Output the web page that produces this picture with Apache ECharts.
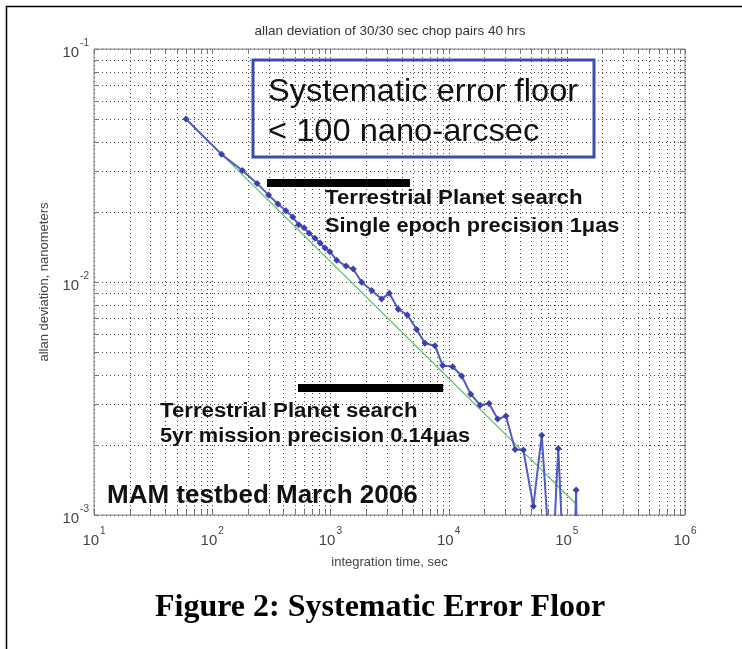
<!DOCTYPE html>
<html>
<head>
<meta charset="utf-8">
<script src="https://cdn.jsdelivr.net/npm/echarts@6/dist/echarts.min.js"></script>
<style>
html,body{margin:0;padding:0;background:#fff;}
#c{width:742px;height:649px;}
</style>
</head>
<body>
<div id="c"></div>
<script>
// integration time (sec)
var times = [60,120,180,240,300,360,420,480,540,600,660,740,820,900,990,1130,1355,1560,1840,2240,2710,3150,3750,4480,5370,6310,7670,8910,10830,12900,15400,18450,22000,26000,30600,36500,42900,52100,61400,74300,84700,106000,120000,124000];
// allan deviation (nanometers)
var adev = [0.0501,0.0353,0.0301,0.0265,0.0236,0.0216,0.0202,0.0190,0.0176,0.0171,0.0162,0.0154,0.0147,0.0140,0.0135,0.0124,0.0117,0.01137,0.00997,0.00919,0.00846,0.00894,0.00764,0.00722,0.00626,0.00546,0.00533,0.00438,0.00433,0.00395,0.00330,0.00296,0.00301,0.00258,0.00266,0.00191,0.00190,0.00109,0.00220,0.0005,0.00193,0.00016,0.00128,0.0001];
// t^-1/2 reference line
var fitTimes = [60, 121000];
var fitValues = [0.0501, 0.00111];
// precision bars
var bar1Times = [291, 4710];
var bar1Value = 0.0266;
var bar2Times = [532, 8980];
var bar2Value = 0.00351;
// axis ranges / ticks
var xDecades = [10, 100, 1000, 10000, 100000, 1000000];
var yDecades = [0.001, 0.01, 0.1];

function pairs(a, b){ return a.map(function(v,i){ return [v, b[i]]; }); }

// grid lines (major + minor, log spaced)
var gridItems = [];
for (var i = 0; i < xDecades.length - 1; i++) {
  for (var m = 1; m <= 9; m++) gridItems.push([xDecades[i]*m, 0.01, 0]);
}
gridItems.push([xDecades[xDecades.length-1], 0.01, 0]);
for (var j = 0; j < yDecades.length - 1; j++) {
  for (var n = 1; n <= 9; n++) gridItems.push([100, yDecades[j]*n, 1]);
}
gridItems.push([100, yDecades[yDecades.length-1], 1]);

var chart = echarts.init(document.getElementById('c'));

function supLabel(v){
  var e = Math.round(Math.log10(v));
  return '{b|10}{s|' + e + '}';
}
var labelRich = {
  b: {fontSize: 15, fontFamily: 'Liberation Sans', color: '#444', lineHeight: 22, verticalAlign: 'bottom'},
  s: {fontSize: 10, fontFamily: 'Liberation Sans', color: '#444', lineHeight: 22, verticalAlign: 'top', padding: [0,0,0,1]}
};
var boldTxt = {fontSize: 20, fontWeight: 'bold', fill: '#111', fontFamily: 'Liberation Sans'};

chart.setOption({
  animation: false,
  backgroundColor: '#fff',
  grid: {left: 94, top: 49, right: 57, bottom: 134, show: true, borderColor: '#858585', borderWidth: 1, backgroundColor: 'transparent'},
  xAxis: {
    type: 'log', logBase: 10, min: 10, max: 1000000,
    axisLine: {show: false}, axisTick: {show: false}, splitLine: {show: false},
    axisLabel: {formatter: supLabel, rich: labelRich, margin: 11, showMinLabel: true, showMaxLabel: true},
    name: 'integration time, sec', nameLocation: 'middle', nameGap: 41,
    nameTextStyle: {fontSize: 13, color: '#444', fontFamily: 'Liberation Sans'}
  },
  yAxis: {
    type: 'log', logBase: 10, min: 0.001, max: 0.1,
    axisLine: {show: false}, axisTick: {show: false}, splitLine: {show: false},
    axisLabel: {formatter: supLabel, rich: labelRich, margin: 5, showMinLabel: true, showMaxLabel: true},
    name: 'allan deviation, nanometers', nameLocation: 'middle', nameGap: 43, nameRotate: 90,
    nameTextStyle: {fontSize: 13, color: '#444', fontFamily: 'Liberation Sans'}
  },
  series: [
    {
      type: 'custom', silent: true, z: 1, clip: false,
      encode: {x: 0, y: 1},
      data: gridItems,
      renderItem: function(params, api){
        var cs = params.coordSys;
        var kind = api.value(2);
        var children = [];
        var dash = {stroke: '#444', lineWidth: 1, lineDash: [1, 3]};
        var tick = {stroke: '#777', lineWidth: 1};
        if (kind === 0) {
          var px = Math.round(api.coord([api.value(0), 0.01])[0]) + 0.5;
          children.push({type: 'line', shape: {x1: px, y1: cs.y, x2: px, y2: cs.y + cs.height}, style: dash});
          children.push({type: 'line', shape: {x1: px, y1: cs.y + cs.height, x2: px, y2: cs.y + cs.height - 5}, style: tick});
          children.push({type: 'line', shape: {x1: px, y1: cs.y, x2: px, y2: cs.y + 5}, style: tick});
        } else {
          var py = Math.round(api.coord([100, api.value(1)])[1]) + 0.5;
          children.push({type: 'line', shape: {x1: cs.x, y1: py, x2: cs.x + cs.width, y2: py}, style: dash});
          children.push({type: 'line', shape: {x1: cs.x, y1: py, x2: cs.x + 5, y2: py}, style: tick});
          children.push({type: 'line', shape: {x1: cs.x + cs.width, y1: py, x2: cs.x + cs.width - 5, y2: py}, style: tick});
        }
        return {type: 'group', children: children};
      }
    },
    {
      type: 'line', z: 3, data: pairs(fitTimes, fitValues), symbol: 'none',
      lineStyle: {color: '#6cc474', width: 1.3}
    },
    {
      type: 'line', z: 4, data: pairs(times, adev), clip: true,
      symbol: 'diamond', symbolSize: 7,
      itemStyle: {color: '#3a40b2'},
      lineStyle: {color: '#4f5cc4', width: 2}
    },
    {
      type: 'line', z: 5, data: bar1Times.map(function(t){ return [t, bar1Value]; }), symbol: 'none',
      lineStyle: {color: '#000', width: 8, cap: 'butt'}
    },
    {
      type: 'line', z: 5, data: bar2Times.map(function(t){ return [t, bar2Value]; }), symbol: 'none',
      lineStyle: {color: '#000', width: 8, cap: 'butt'}
    }
  ],
  graphic: [
    {type: 'line', shape: {x1: 6.5, y1: 6, x2: 6.5, y2: 649}, style: {stroke: '#000', lineWidth: 1.5}},
    {type: 'line', shape: {x1: 6, y1: 6.5, x2: 742, y2: 6.5}, style: {stroke: '#000', lineWidth: 1.5}},
    {type: 'text', x: 390, y: 24, style: {text: 'allan deviation of 30/30 sec chop pairs 40 hrs', fontSize: 13.5, fill: '#333', fontFamily: 'Liberation Sans', textAlign: 'center'}},
    {type: 'rect', shape: {x: 253, y: 60, width: 341, height: 97}, style: {fill: 'transparent', stroke: '#3b4cb0', lineWidth: 3}, z: 20},
    {type: 'text', x: 268, y: 76, scaleX: 1.02, style: {text: 'Systematic error floor', fontSize: 32, fill: '#111', fontFamily: 'Liberation Sans'}, z: 20},
    {type: 'text', x: 268, y: 116, scaleX: 1.02, style: {text: '< 100 nano-arcsec', fontSize: 32, fill: '#111', fontFamily: 'Liberation Sans'}, z: 20},
    {type: 'text', x: 325, y: 188, scaleX: 1.11, style: Object.assign({text: 'Terrestrial Planet search'}, boldTxt), z: 20},
    {type: 'text', x: 325, y: 216, scaleX: 1.09, style: Object.assign({text: 'Single epoch precision 1\u03bcas'}, boldTxt), z: 20},
    {type: 'text', x: 160, y: 401, scaleX: 1.11, style: Object.assign({text: 'Terrestrial Planet search'}, boldTxt), z: 20},
    {type: 'text', x: 160, y: 426, scaleX: 1.09, style: Object.assign({text: '5yr mission precision 0.14\u03bcas'}, boldTxt), z: 20},
    {type: 'text', x: 107, y: 483, style: {text: 'MAM testbed March 2006', fontSize: 26, fontWeight: 'bold', fill: '#111', fontFamily: 'Liberation Sans'}, z: 20},
    {type: 'text', x: 155, y: 592, style: {text: 'Figure 2: Systematic Error Floor', fontSize: 32, fontWeight: 'bold', fill: '#000', fontFamily: 'Liberation Serif'}, z: 20}
  ]
});
</script>
</body>
</html>
